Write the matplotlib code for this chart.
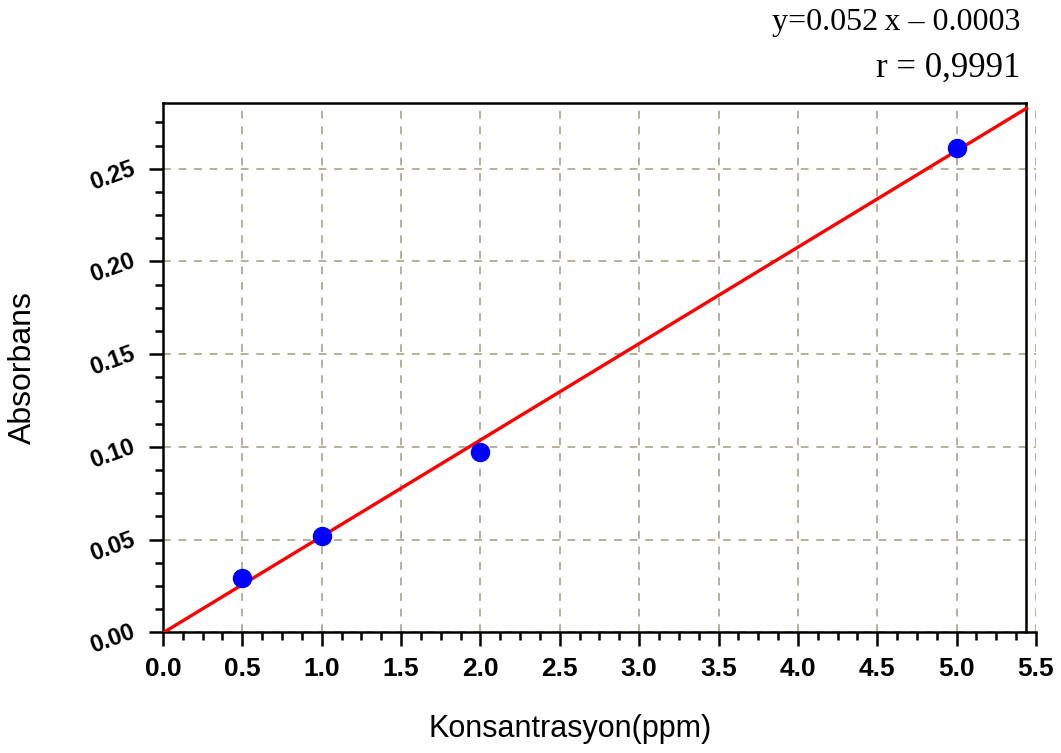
import numpy as np
import matplotlib
matplotlib.use('Agg')
import matplotlib.pyplot as plt
import matplotlib.transforms as mtransforms
from matplotlib.ticker import MultipleLocator

# calibration data
konsantrasyon = [0.5, 1.0, 2.0, 5.0]
absorbans = [0.0295, 0.0522, 0.0972, 0.2613]
slope = 0.052
intercept = -0.0003
frame_right = 5.44  # right frame sits a little short of 5.5

fig = plt.figure(figsize=(10.61, 7.53), dpi=100)
ax = fig.add_axes([0.1536, 0.1603, 0.8228, 0.7025])

# fitted line
xfit = np.array([0.0, frame_right])
ax.plot(xfit, slope * xfit + intercept, color='#ff0000', lw=2.4, zorder=3)
# measured points
ax.plot(konsantrasyon, absorbans, 'o', color='#0000ff', ms=13, zorder=4)

ax.set_xlim(0, 5.5)
ax.set_ylim(0, 0.2853)
ax.xaxis.set_major_locator(MultipleLocator(0.5))
ax.xaxis.set_minor_locator(MultipleLocator(0.125))
ax.yaxis.set_major_locator(MultipleLocator(0.05))
ax.yaxis.set_minor_locator(MultipleLocator(0.0125))

ax.grid(True, which='major', color='#b5b09c', linestyle=(0, (4, 4)), lw=1.4)
ax.xaxis.get_gridlines()[-1].set_visible(False)
ax.yaxis.get_gridlines()[0].set_visible(False)
ax.xaxis.get_gridlines()[0].set_visible(False)

for s in ax.spines.values():
    s.set_linewidth(1.8)
ax.spines['right'].set_position(('data', frame_right))
ax.spines['top'].set_bounds(0, frame_right)

ax.tick_params(which='major', direction='out', length=10, width=1.8, top=False, right=False)
ax.tick_params(which='minor', direction='out', length=6, width=1.8, top=False, right=False)

ax.set_xticklabels([f'{v:.1f}' for v in ax.get_xticks()],
                   fontfamily='Liberation Sans', fontweight='bold', fontsize=19)
ax.set_yticklabels([f'{v:.2f}' for v in ax.get_yticks()],
                   fontfamily='Liberation Sans', fontweight='bold', fontsize=17,
                   rotation=20, va='center')
ax.tick_params(axis='x', pad=8)
ax.tick_params(axis='y', pad=8)

# y labels sit a little below their ticks
shift = mtransforms.ScaledTranslation(0, -5 / 72, fig.dpi_scale_trans)
for lab in ax.get_yticklabels():
    lab.set_transform(lab.get_transform() + shift)

ax.set_xlabel('Konsantrasyon(ppm)', fontfamily='Liberation Sans', fontsize=22)
ax.xaxis.set_label_coords(0.466, -0.155)
ax.set_ylabel('Absorbans', fontfamily='Liberation Sans', fontsize=23)
ax.yaxis.set_label_coords(-0.143, 0.5)

fig.text(0.962, 0.970, 'y=0.052\u2009x \u2013 0.0003', ha='right', va='center',
         fontfamily='Liberation Serif', fontsize=23)
fig.text(0.962, 0.910, 'r = 0,9991', ha='right', va='center',
         fontfamily='Liberation Serif', fontsize=25)

fig.savefig('out.png', dpi=100)
